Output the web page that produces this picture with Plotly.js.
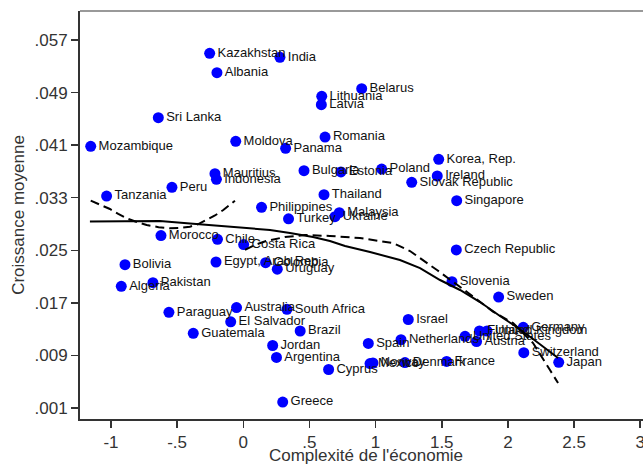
<!DOCTYPE html>
<html>
<head>
<meta charset="utf-8">
<script src="https://cdn.plot.ly/plotly-3.0.1.min.js"></script>
<style>
html, body { margin: 0; padding: 0; overflow: hidden; background: #fff; }
#chart { width: 660px; height: 465px; }
</style>
</head>
<body>
<div id="chart"></div>
<script>
// Country scatter data
var countries = ["Kazakhstan","India","Albania","Sri Lanka","Mozambique","Moldova","Panama","Belarus","Lithuania","Latvia",
  "Romania","Mauritius","Indonesia","Peru","Tanzania","Bulgaria","Estonia","Poland","Korea, Rep.","Ireland",
  "Slovak Republic","Thailand","Singapore","Philippines","Turkey","Malaysia","Ukraine","Morocco","Chile","Costa Rica",
  "Czech Republic","Egypt, Arab Rep.","Colombia","Uruguay","Bolivia","Pakistan","Algeria","Slovenia","Sweden","Paraguay",
  "Australia","South Africa","El Salvador","Guatemala","Brazil","Israel","Jordan","Argentina","Spain","Netherlands",
  "United States","Austria","Finland","United Kingdom","Germany","Switzerland","Japan","Cyprus","Mexico","Norway",
  "Denmark","France","Greece"];
var complexity = [-0.254,0.277,-0.199,-0.642,-1.153,-0.057,0.320,0.895,0.593,0.590,
  0.618,-0.214,-0.203,-0.539,-1.033,0.459,0.738,1.046,1.477,1.466,
  1.273,0.610,1.613,0.138,0.342,0.726,0.693,-0.622,-0.195,0.003,
  1.610,-0.206,0.169,0.257,-0.894,-0.683,-0.922,1.577,1.930,-0.562,
  -0.051,0.330,-0.095,-0.378,0.430,1.247,0.222,0.251,0.945,1.192,
  1.676,1.763,1.785,1.842,2.116,2.120,2.384,0.645,0.958,0.980,
  1.222,1.537,0.298];
var growth = [0.05498,0.05437,0.05203,0.04518,0.04083,0.04159,0.04052,0.04959,0.04844,0.04716,
  0.04224,0.03666,0.03580,0.03459,0.03326,0.03711,0.03692,0.03737,0.03885,0.03631,
  0.03535,0.03346,0.03255,0.03154,0.02979,0.03072,0.03011,0.02725,0.02667,0.02588,
  0.02505,0.02322,0.02311,0.02212,0.02281,0.02007,0.01952,0.02022,0.01789,0.01556,
  0.01629,0.01602,0.01412,0.01237,0.01272,0.01447,0.01051,0.00869,0.01082,0.01139,
  0.01191,0.01112,0.01272,0.01272,0.01328,0.00942,0.00795,0.00686,0.00777,0.00785,
  0.00792,0.00808,0.00191];

// Fitted curves
var solidX = [-1.159,-0.856,-0.630,-0.403,-0.176,0.051,0.202,0.353,0.527,0.655,0.769,0.958,1.184,1.336,1.487,1.638,1.789,1.940,2.054,2.190,2.280,2.379];
var solidY = [0.02938,0.02946,0.02946,0.02908,0.02870,0.02840,0.02809,0.02763,0.02702,0.02641,0.02565,0.02474,0.02352,0.02230,0.02048,0.01896,0.01713,0.01500,0.01348,0.01150,0.01013,0.00861];
var dashLeftX = [-1.153,-1.080,-1.008,-0.945,-0.881,-0.805,-0.730,-0.640,-0.554,-0.480,-0.403,-0.340,-0.277,-0.214,-0.151,-0.063];
var dashLeftY = [0.03255,0.03188,0.03129,0.03055,0.02987,0.02930,0.02885,0.02852,0.02835,0.02840,0.02859,0.02900,0.02961,0.03030,0.03113,0.03255];
var dashRightX = [0.013,0.088,0.172,0.315,0.466,0.655,0.882,1.131,1.260,1.336,1.464,1.691,1.887,2.039,2.190,2.318,2.379];
var dashRightY = [0.02505,0.02581,0.02641,0.02702,0.02733,0.02718,0.02687,0.02611,0.02489,0.02383,0.02200,0.01865,0.01566,0.01394,0.01089,0.00678,0.00480];

// Axis ticks
var xTickVals = [-1,-0.5,0,0.5,1,1.5,2,2.5,3];
var xTickText = ["-1","-.5","0",".5","1","1.5","2","2.5","3"];
var yTickVals = [0.001,0.009,0.017,0.025,0.033,0.041,0.049,0.057];
var yTickText = [".001",".009",".017",".025",".033",".041",".049",".057"];

var font = "Liberation Sans, Arial, sans-serif";

var traces = [
  {
    x: complexity, y: growth, text: countries,
    mode: "markers+text", type: "scatter",
    textposition: "middle right",
    marker: {color: "#0000ff", size: 11},
    textfont: {family: font, size: 13, color: "#111"},
    hoverinfo: "none", cliponaxis: false
  },
  {
    x: solidX, y: solidY, mode: "lines", type: "scatter",
    line: {color: "#000", width: 2},
    hoverinfo: "none"
  },
  {
    x: dashLeftX, y: dashLeftY, mode: "lines", type: "scatter",
    line: {color: "#000", width: 2, dash: "9px,5px"},
    hoverinfo: "none"
  },
  {
    x: dashRightX, y: dashRightY, mode: "lines", type: "scatter",
    line: {color: "#000", width: 2, dash: "9px,5px"},
    hoverinfo: "none"
  }
];

var layout = {
  width: 660, height: 465,
  margin: {l: 80, r: 8, t: 11, b: 46},
  paper_bgcolor: "#fff", plot_bgcolor: "#fff",
  showlegend: false,
  font: {family: font, color: "#333"},
  xaxis: {
    range: [-1.234, 3.089],
    tickvals: xTickVals, ticktext: xTickText,
    ticks: "outside", ticklen: 7, tickwidth: 1.5, tickcolor: "#333",
    showline: true, linecolor: "#333", linewidth: 2,
    showgrid: false, zeroline: false,
    tickfont: {family: font, size: 17, color: "#333"},
    title: {text: "Complexité de l'économie", font: {family: font, size: 17, color: "#333"}, standoff: 2}
  },
  yaxis: {
    range: [-0.000674, 0.06142],
    tickvals: yTickVals, ticktext: yTickText,
    ticks: "outside", ticklen: 7, tickwidth: 1.5, tickcolor: "#333",
    showline: true, linecolor: "#333", linewidth: 2,
    showgrid: false, zeroline: false,
    tickfont: {family: font, size: 17, color: "#333"},
    title: {text: "Croissance moyenne", font: {family: font, size: 17, color: "#333"}, standoff: 6}
  },
  shapes: [
    {type: "line", xref: "paper", yref: "paper", x0: 0, x1: 1, y0: 1, y1: 1,
     line: {color: "#777", width: 1.5}}
  ]
};

Plotly.newPlot("chart", traces, layout, {displayModeBar: false, staticPlot: true});
</script>
</body>
</html>
